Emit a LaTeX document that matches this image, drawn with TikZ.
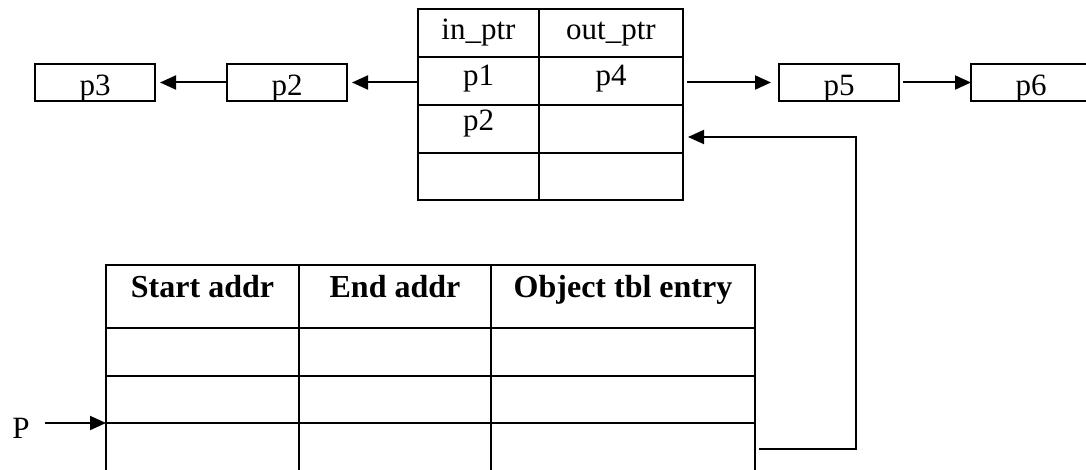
\documentclass[tikz,border=0pt]{standalone}
\usepackage{fontspec}
\setmainfont{Liberation Serif}
\usetikzlibrary{arrows.meta}
\begin{document}
\begin{tikzpicture}[x=1pt,y=-1pt,
  cell/.style={draw, line width=2.4pt, inner sep=0pt, outer sep=0pt, anchor=north west},
  ptrbox/.style={cell, minimum width=120pt, minimum height=37pt},
  txt/.style={font=\fontsize{31}{36}\selectfont, anchor=base, inner sep=0pt},
  head/.style={font=\fontsize{32}{38}\selectfont\bfseries, anchor=base, inner sep=0pt},
  link/.style={line width=2pt, -{Triangle[length=16pt,width=14pt]}}]
\useasboundingbox (0,0) rectangle (1086,470);
\clip (0,0) rectangle (1086,470);

% pointer table: in_ptr / out_ptr
\foreach \r/\y/\h in {1/9/48, 2/57/48, 3/105/48, 4/153/47} {
  \node[cell, minimum width=121pt, minimum height=\h pt] (in\r) at (418,\y) {};
  \node[cell, minimum width=144pt, minimum height=\h pt] (out\r) at (539,\y) {};
}
\node[txt] at ([yshift=-31pt]in1.north)  {in\_ptr};
\node[txt] at ([yshift=-31pt]out1.north) {out\_ptr};
\node[txt] at ([yshift=-29pt]in2.north)  {p1};
\node[txt] at ([yshift=-29pt]out2.north) {p4};
\node[txt] at ([yshift=-26pt]in3.north)  {p2};

% chained pointer boxes
\node[ptrbox] (p3box) at (35,64)  {};
\node[ptrbox] (p2box) at (227,64) {};
\node[ptrbox] (p5box) at (779,64) {};
\node[ptrbox] (p6box) at (971,64) {};
\foreach \b/\t in {p3box/p3, p2box/p2, p5box/p5, p6box/p6}
  \node[txt] at ([yshift=-32pt]\b.north) {\t};

% address table
\foreach \r/\y/\h in {1/265/63, 2/328/48, 3/376/47, 4/423/60} {
  \node[cell, minimum width=193pt, minimum height=\h pt] (start\r) at (106,\y) {};
  \node[cell, minimum width=192pt, minimum height=\h pt] (end\r)   at (299,\y) {};
  \node[cell, minimum width=264pt, minimum height=\h pt] (obj\r)   at (491,\y) {};
}
\node[head] at ([yshift=-32pt]start1.north) {Start addr};
\node[head] at ([yshift=-32pt]end1.north)   {End addr};
\node[head] at ([yshift=-32pt]obj1.north)   {Object tbl entry};

% pointer P
\node[txt] (P) at (21,438) {P};

% connectors
\draw[link, shorten >=5pt] (p2box.east -| in2.west) -- (p2box.east);
\draw[link, shorten >=5pt] (p2box.west) -- (p3box.east);
\draw[link, shorten <=4pt, shorten >=8pt] (p5box.west -| out2.east) -- (p5box.west);
\draw[link, shorten <=4pt] (p5box.east) -- (p6box.west);
\coordinate (turnlow)  at (856,449);
\coordinate (turnhigh) at (856,137);
\draw[link] ([xshift=4pt]obj4.north east |- turnlow) -- (turnlow) -- (turnhigh)
  -- ([xshift=5pt]out3.east |- turnhigh);
\draw[link] ([xshift=15pt]P.east |- start4.north west) -- (start4.north west);
\end{tikzpicture}
\end{document}
